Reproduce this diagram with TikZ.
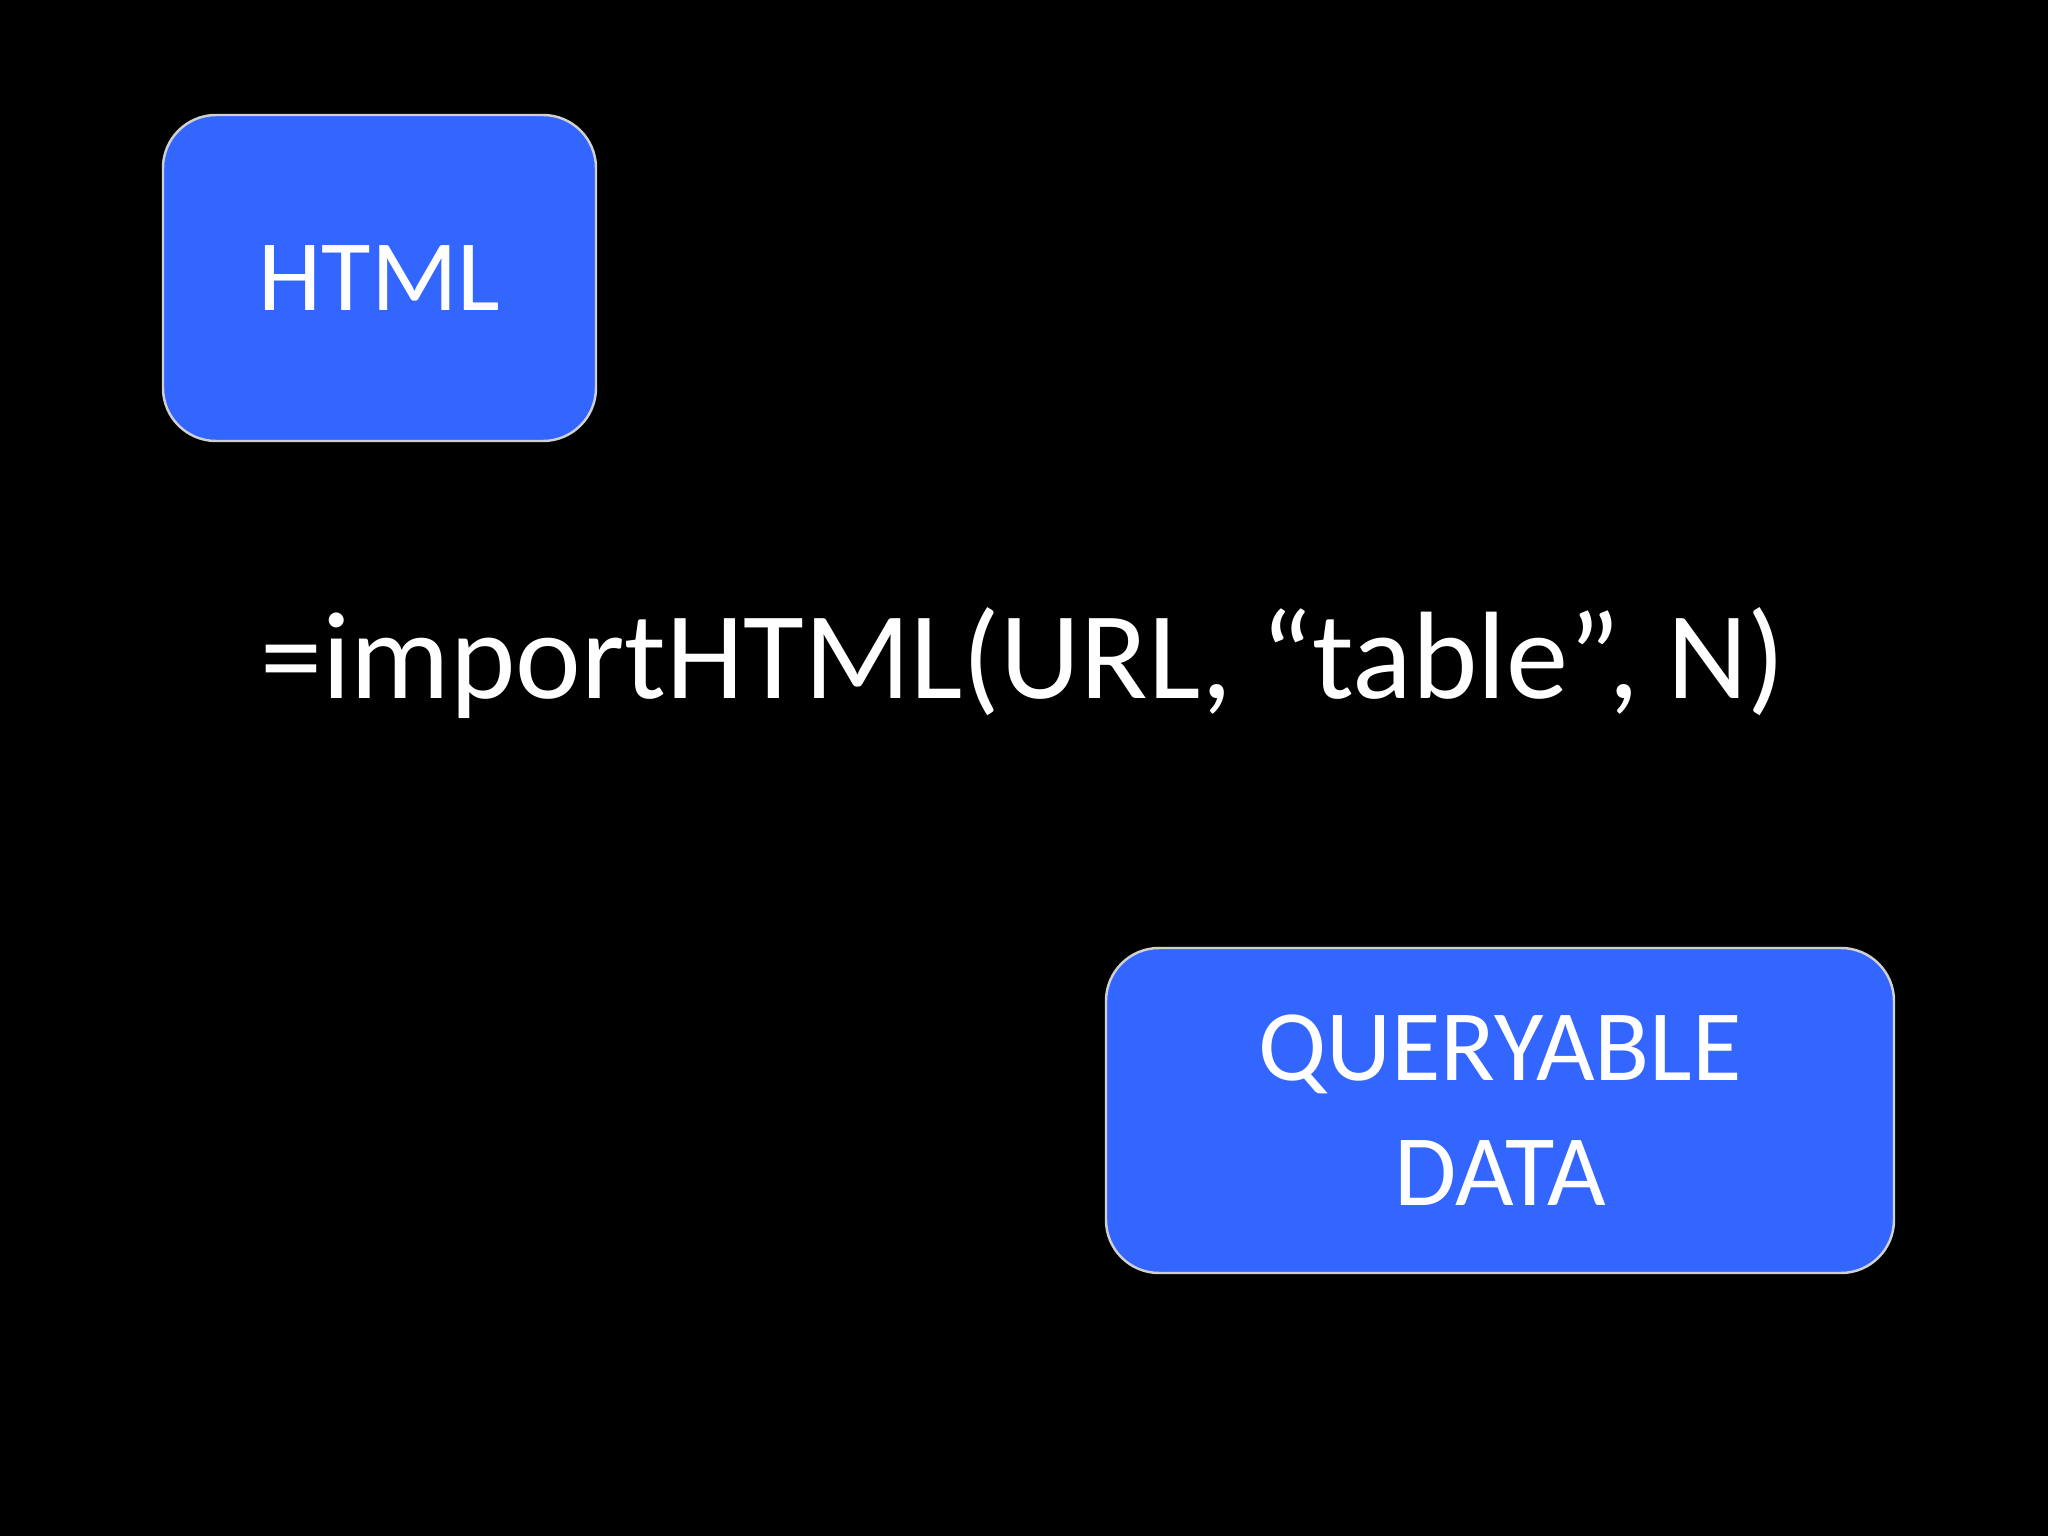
\documentclass[tikz,border=0pt]{standalone}
\usepackage{fontspec}
\setmainfont{Carlito}
\usepackage{tikz}
\usetikzlibrary{positioning}
\definecolor{slideblue}{RGB}{51,102,255}
\definecolor{slideedge}{RGB}{208,208,208}
\tikzstyle{bluebox} = [rectangle, rounded corners=0.53cm, fill=slideblue, draw=slideedge, line width=0.7pt, text=white, align=center, inner sep=0pt, font=\fontsize{28.8}{35.5}\selectfont]

\begin{document}
\begin{tikzpicture}
% background
\fill[black] (0,0) rectangle (20.48,-15.36);
\useasboundingbox (0,0) rectangle (20.48,-15.36);

% boxes
\node[bluebox, minimum width=4.33cm, minimum height=3.26cm] (html) at (3.795,-2.78) {HTML};
\node[bluebox, minimum width=7.88cm, minimum height=3.25cm] (data) at (15.0,-11.105) {QUERYABLE\\DATA};

% formula
\node[anchor=base, text=white, inner sep=0pt, font=\fontsize{35.4}{40}\selectfont] (formula) at (10.23,-6.99) {=importHTML(URL, “table”, N)};
\end{tikzpicture}
\end{document}
